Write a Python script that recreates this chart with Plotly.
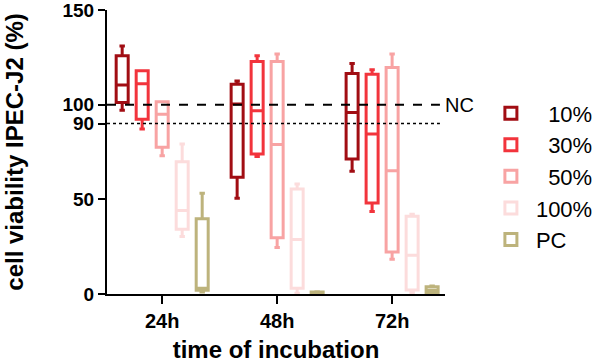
import plotly.graph_objects as go

times = ["24h", "48h", "72h"]
groups = ["10%", "30%", "50%", "100%", "PC"]
legend_names = ["\u200710%", "\u200730%", "\u200750%", "100%", "PC"]
colors = ["#a10d13", "#f2343c", "#f8a3a3", "#fcdcdc", "#bdb37c"]

# per group: values for 24h, 48h, 72h
upper = [[131.0, 112.5, 121.7], [117.9, 125.8, 118.4], [101.5, 126.7, 126.7], [79.2, 58.1, 42.1], [53.2, 1.2, 4.2]]
q3 = [[125.8, 110.8, 116.5], [117.9, 122.8, 116.1], [101.5, 122.8, 119.6], [69.9, 55.5, 41.0], [39.8, 1.0, 3.8]]
median = [[110.4, 100.3, 95.9], [111.1, 96.8, 84.5], [95.0, 78.9, 65.1], [44.1, 28.8, 20.5], [3.0, 0.6, 2.0]]
q1 = [[101.2, 61.6, 71.3], [92.3, 73.9, 48.0], [77.5, 29.7, 22.2], [34.2, 3.0, 2.1], [2.0, 0.3, 0.8]]
lower = [[97.1, 50.6, 64.8], [87.1, 72.6, 43.6], [73.0, 24.5, 18.4], [30.4, 0.4, 0.8], [1.0, 0.2, 0.4]]

fig = go.Figure()
for i, g in enumerate(groups):
    fig.add_trace(go.Box(
        x=times, q1=q1[i], median=median[i], q3=q3[i],
        lowerfence=lower[i], upperfence=upper[i],
        name=legend_names[i], legendgroup=g,
        line=dict(color=colors[i], width=3),
        fillcolor="white", whiskerwidth=0.45, boxpoints=False,
    ))

fig.add_shape(type="line", xref="paper", yref="y", x0=0, x1=0.985, y0=100, y1=100,
              line=dict(color="black", width=2, dash="dash"))
fig.add_shape(type="line", xref="paper", yref="y", x0=0, x1=0.985, y0=90, y1=90,
              line=dict(color="black", width=1.5, dash="dot"))
fig.add_annotation(x=0.995, y=100, xref="paper", yref="y", text="NC", showarrow=False,
                   xanchor="left", yanchor="middle", font=dict(size=20, color="black"))

fig.update_layout(
    width=597, height=364,
    margin=dict(l=107, r=152, t=10, b=70, autoexpand=False),
    paper_bgcolor="white", plot_bgcolor="white",
    font=dict(family="Liberation Sans, Arial, sans-serif", color="black"),
    boxmode="group", boxgap=0.13, boxgroupgap=0.4,
    showlegend=True,
    legend=dict(x=1.121, y=0.71, xanchor="left", yanchor="top", tracegroupgap=0,
                font=dict(size=22), itemwidth=40),
    xaxis=dict(range=[-0.48, 2.46], showline=True, linecolor="black", linewidth=2,
               ticks="outside", ticklen=8, tickwidth=2, tickcolor="black",
               tickfont=dict(size=20, weight="bold"), automargin=False,
               title=dict(text="time of incubation", font=dict(size=24, weight="bold"), standoff=10),
               showgrid=False, zeroline=False),
    yaxis=dict(range=[0, 150], showline=True, linecolor="black", linewidth=2,
               tickvals=[0, 50, 90, 100, 150], ticks="outside", ticklen=7, tickwidth=2,
               tickcolor="black", tickfont=dict(size=19, weight="bold"),
               ticklabeloverflow="allow", automargin=False,
               title=dict(text="cell viability IPEC-J2 (%)", font=dict(size=24, weight="bold"), standoff=32),
               showgrid=False, zeroline=False),
)

fig.write_html("out.html")
